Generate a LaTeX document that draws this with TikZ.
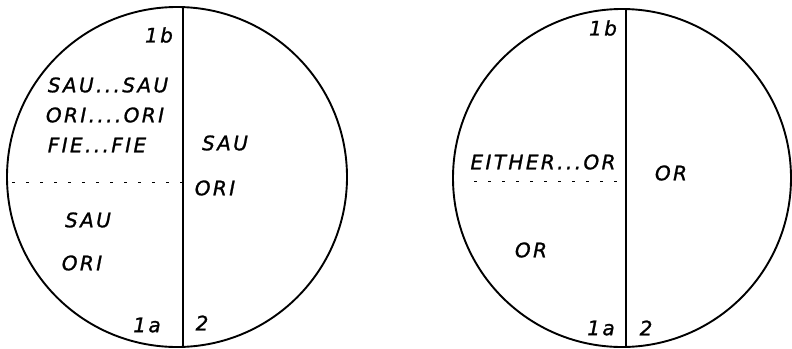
\documentclass[tikz,border=0pt]{standalone}
\usepackage{fontspec}
\newfontfamily\hand[LetterSpace=12,FakeBold=1.2]{DejaVu Sans Oblique}
\begin{document}
\begin{tikzpicture}[x=1pt,y=-1pt,
  rim/.style={draw,line width=1.9pt},
  divider/.style={line width=1.2pt},
  dotline/.style={line width=0.8pt,dash pattern=on 3pt off 11pt},
  lbl/.style={inner sep=0pt,font=\hand\fontsize{20}{20}\selectfont}]
\useasboundingbox (0,0) rectangle (792,348);
% left circle
\draw[rim] (177,177) circle (170);
\coordinate (L1t) at (183,7.1);
\coordinate (L1b) at (183,346.9);
\coordinate (L1m) at (183,182);
\coordinate (L1l) at (12,182);
\draw[divider] (L1t) -- (L1b);
\draw[dotline] (L1l) -- (L1m);
\node[lbl] (l1b) at (159,35) {1b};
\node[lbl] (lss) at (108,85) {SAU...SAU};
\node[lbl] (loo) at (105,115) {ORI....ORI};
\node[lbl] (lff) at (97,145) {FIE...FIE};
\node[lbl] (lsr) at (225,143) {SAU};
\node[lbl] (lor) at (215,188) {ORI};
\node[lbl] (lsl) at (88,220) {SAU};
\node[lbl] (lol) at (82,263) {ORI};
\node[lbl] (l1a) at (147,325) {1a};
\node[lbl] (l2) at (202,323) {2};
% right circle
\draw[rim] (622,178) circle (169);
\coordinate (R1t) at (626,9.1);
\coordinate (R1b) at (626,346.9);
\coordinate (R1m) at (626,181);
\coordinate (R1l) at (474,181);
\draw[line width=1.7pt] (R1t) -- (R1b);
\draw[dotline] (R1l) -- (R1m);
\node[lbl] (r1b) at (603,28) {1b};
\node[lbl] (reo) at (543,162) {EITHER...OR};
\node[lbl] (rorr) at (671,173) {OR};
\node[lbl] (rorl) at (531,250) {OR};
\node[lbl] (r1a) at (601,328) {1a};
\node[lbl] (r2) at (646,328) {2};
\end{tikzpicture}
\end{document}
